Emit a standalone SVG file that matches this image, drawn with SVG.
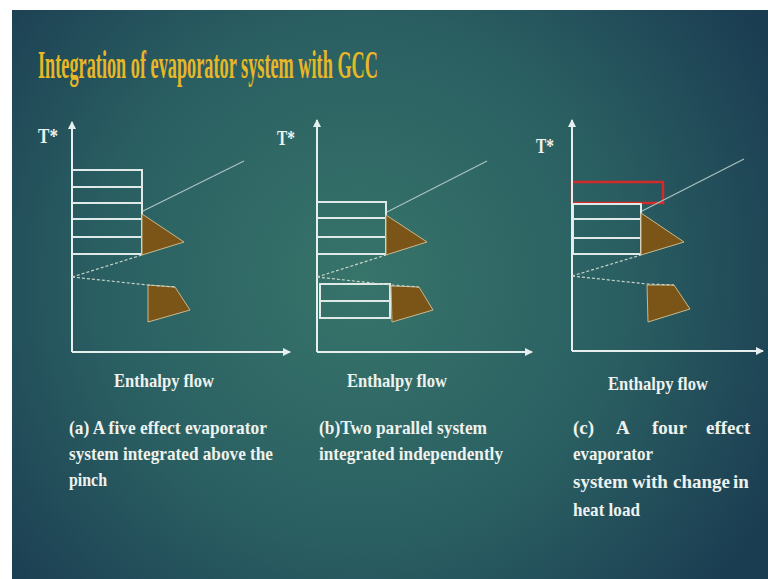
<svg xmlns="http://www.w3.org/2000/svg" width="768" height="579" viewBox="0 0 768 579">
<defs>
<radialGradient id="bg" cx="360" cy="280" r="470" gradientUnits="userSpaceOnUse">
<stop offset="0" stop-color="#37746a"/>
<stop offset="0.55" stop-color="#2a5f62"/>
<stop offset="1" stop-color="#1b3d52"/>
</radialGradient>
<marker id="arr" viewBox="0 0 8 8" refX="7" refY="4" markerWidth="4" markerHeight="4" orient="auto" markerUnits="strokeWidth">
<path d="M0,0 L8,4 L0,8 z" fill="#e6eeee"/>
</marker>
<style>
.t{font-family:"Liberation Serif","Times New Roman",serif;font-weight:bold;fill:#eef2ee;}
.title{font-family:"Liberation Serif","Times New Roman",serif;font-weight:bold;fill:#e8b726;font-size:40px;}
.ax{stroke:#e6eeee;stroke-width:2;fill:none;marker-end:url(#arr);}
.box{stroke:#dfe9e8;stroke-width:2;fill:none;}
.gcc{stroke:#a9c4c2;stroke-width:1.2;fill:none;}
.dash{stroke:#c9d3c8;stroke-width:1.2;fill:none;stroke-dasharray:3 2;}
.pocket{fill:#7b5518;stroke:#c9b98c;stroke-width:1;}
.red{stroke:#d42a2a;stroke-width:2.5;fill:none;}
</style>
</defs>
<rect x="0" y="0" width="768" height="579" fill="#ffffff"/>
<rect x="12" y="10" width="756" height="569" fill="url(#bg)"/>

<g id="title">
<text class="title" transform="translate(38,78) scale(0.5,1)" x="0" y="0" textLength="680" lengthAdjust="spacingAndGlyphs">Integration of evaporator system with GCC</text>
</g>

<g id="chart-a">
<text class="t" x="38" y="143" font-size="21" textLength="20" lengthAdjust="spacingAndGlyphs">T*</text>
<rect class="box" x="72" y="170" width="70" height="17"/>
<rect class="box" x="72" y="187" width="70" height="16"/>
<rect class="box" x="72" y="203" width="70" height="16"/>
<rect class="box" x="72" y="219" width="70" height="18"/>
<rect class="box" x="72" y="237" width="70" height="17"/>
<polygon class="pocket" points="142,214 184,242 142,255"/>
<polygon class="pocket" points="148,285 175,287 190,310 148,322"/>
</g>

<g id="chart-b">
<text class="t" x="277" y="145" font-size="21" textLength="18" lengthAdjust="spacingAndGlyphs">T*</text>
<rect class="box" x="317" y="202" width="69" height="16"/>
<rect class="box" x="317" y="218" width="69" height="19"/>
<rect class="box" x="317" y="237" width="69" height="17"/>
<rect class="box" x="320" y="284" width="70" height="17"/>
<rect class="box" x="320" y="301" width="70" height="17"/>
<polygon class="pocket" points="386,215 427,242 386,255"/>
<polygon class="pocket" points="391,286 419,287 433,310 392,322"/>
</g>

<g id="chart-c">
<text class="t" x="536" y="153" font-size="21" textLength="18" lengthAdjust="spacingAndGlyphs">T*</text>
<rect class="red" x="572" y="182" width="91" height="21"/>
<rect class="box" x="573" y="204" width="68" height="15"/>
<rect class="box" x="573" y="219" width="68" height="19"/>
<rect class="box" x="573" y="238" width="68" height="16"/>
<polygon class="pocket" points="641,213 684,242 641,255"/>
<polygon class="pocket" points="647,285 674,285 690,309 648,322"/>
</g>

<g id="connectors">
<line class="ax" x1="72" y1="352" x2="72" y2="122"/>
<line class="ax" x1="72" y1="352" x2="290" y2="352"/>
<line class="gcc" x1="143" y1="211" x2="244" y2="161"/>
<line class="dash" x1="72" y1="277" x2="142" y2="255"/>
<polyline class="dash" points="72,277 148,285 175,287"/>

<line class="ax" x1="317" y1="352" x2="317" y2="120"/>
<line class="ax" x1="317" y1="352" x2="532" y2="352"/>
<line class="gcc" x1="387" y1="212" x2="487" y2="161"/>
<line class="dash" x1="317" y1="277" x2="386" y2="255"/>
<polyline class="dash" points="317,277 391,285 419,287"/>

<line class="ax" x1="572" y1="351" x2="572" y2="120"/>
<line class="ax" x1="572" y1="351" x2="763" y2="351"/>
<line class="gcc" x1="642" y1="211" x2="744" y2="159"/>
<line class="dash" x1="572" y1="276" x2="641" y2="255"/>
<polyline class="dash" points="572,276 647,284 674,285"/>
</g>

<g id="labels">
<text class="t" x="114" y="387" font-size="19" textLength="100" lengthAdjust="spacingAndGlyphs">Enthalpy flow</text>
<text class="t" x="347" y="387" font-size="19" textLength="100" lengthAdjust="spacingAndGlyphs">Enthalpy flow</text>
<text class="t" x="608" y="390" font-size="19" textLength="100" lengthAdjust="spacingAndGlyphs">Enthalpy flow</text>

<text class="t" x="69" y="434" font-size="19" textLength="198" lengthAdjust="spacingAndGlyphs">(a) A five effect evaporator</text>
<text class="t" x="69" y="460" font-size="19" textLength="204" lengthAdjust="spacingAndGlyphs">system integrated above the</text>
<text class="t" x="69" y="486" font-size="19" textLength="38" lengthAdjust="spacingAndGlyphs">pinch</text>

<text class="t" x="319" y="434" font-size="19" textLength="168" lengthAdjust="spacingAndGlyphs">(b)Two parallel system</text>
<text class="t" x="319" y="460" font-size="19" textLength="184" lengthAdjust="spacingAndGlyphs">integrated independently</text>

<text class="t" font-size="19" y="434"><tspan x="573">(c)</tspan><tspan x="616">A</tspan><tspan x="652">four</tspan><tspan x="706">effect</tspan></text>
<text class="t" x="573" y="460" font-size="19" textLength="80" lengthAdjust="spacingAndGlyphs">evaporator</text>
<text class="t" font-size="19" y="488"><tspan x="573">system</tspan><tspan x="632">with</tspan><tspan x="673">change</tspan><tspan x="733">in</tspan></text>
<text class="t" x="573" y="516" font-size="19" textLength="67" lengthAdjust="spacingAndGlyphs">heat load</text>
</g>
</svg>
